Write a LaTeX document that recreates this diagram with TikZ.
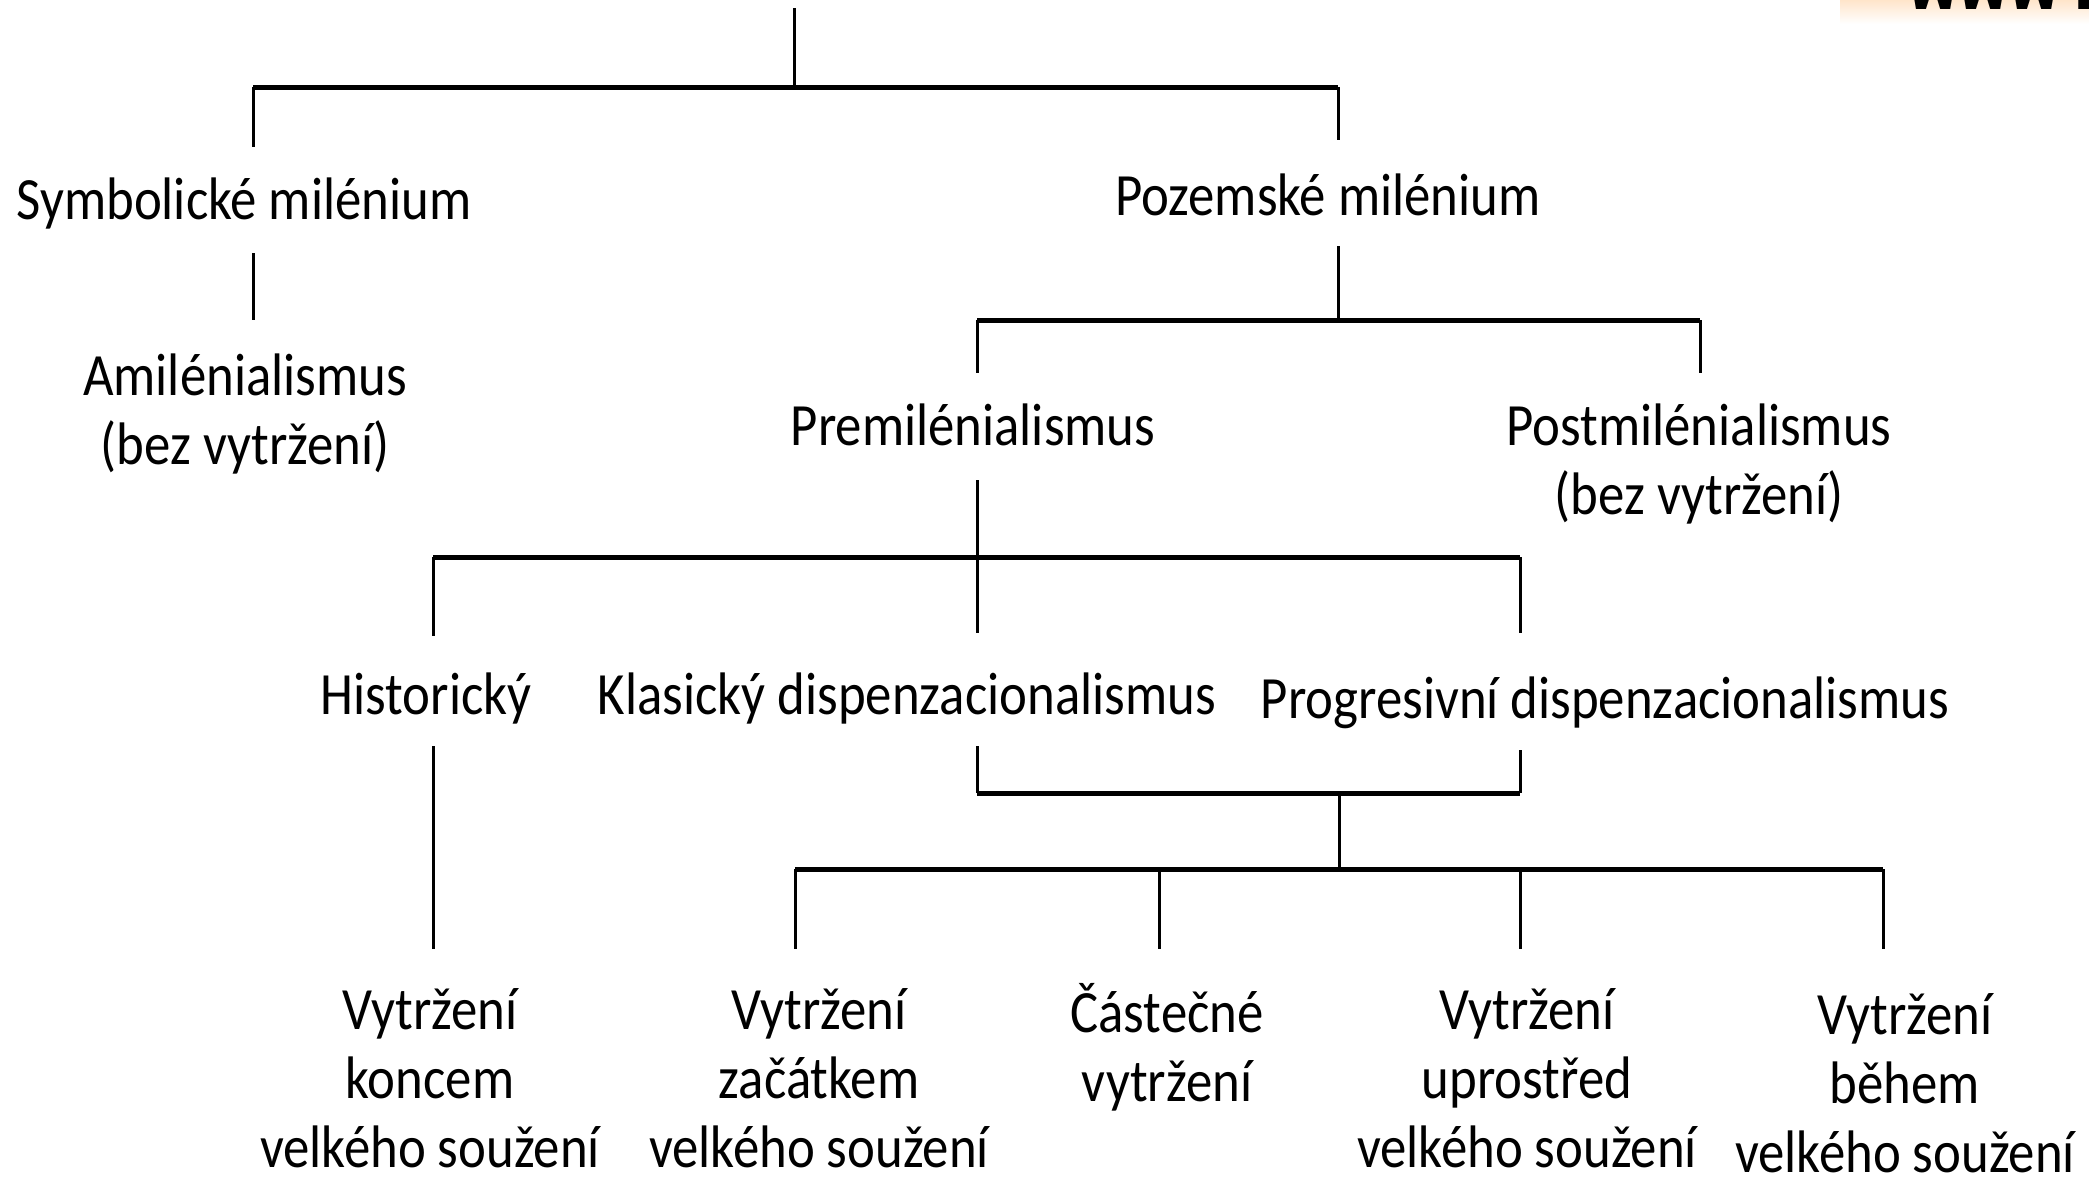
\documentclass[tikz,border=0pt]{standalone}
\usepackage{fontspec}
\setmainfont{Carlito}[FakeStretch=0.88]
\newfontfamily\wwwfont{Liberation Mono}
\begin{document}
\begin{tikzpicture}[x=0.5pt,y=-0.5pt,
  lbl/.style={font=\fontsize{30}{34.5}\selectfont, align=center, inner sep=0pt, anchor=base},
  vline/.style={line width=1.5pt},
  hbar/.style={line width=2.5pt}]
\useasboundingbox (0,0) rectangle (2089,1178);
\begin{scope}
\clip (0,0) rectangle (2089,1178);
\shade[top color=orange!25, bottom color=white] (1840,-5) rectangle (2089,24);
\node[font=\wwwfont\bfseries\fontsize{42}{42}\selectfont, anchor=base west, inner sep=0pt] (www) at (1908,10) {www.i};
\end{scope}

% text nodes (base = baseline of last line)
\node[lbl] (sym) at (244,219) {Symbolické milénium};
\node[lbl] (poz) at (1328,215) {Pozemské milénium};
\node[lbl] (ami) at (245,464) {Amilénialismus\\(bez vytržení)};
\node[lbl] (pre) at (973,445) {Premilénialismus};
\node[lbl] (post) at (1699,514) {Postmilénialismus\\(bez vytržení)};
\node[lbl] (his) at (426,714) {Historický};
\node[lbl] (kla) at (907,714) {Klasický dispenzacionalismus};
\node[lbl] (pro) at (1605,718) {Progresivní dispenzacionalismus};
\node[lbl] (v1) at (430,1167) {Vytržení\\koncem\\velkého soužení};
\node[lbl] (v2) at (819,1167) {Vytržení\\začátkem\\velkého soužení};
\node[lbl] (v3) at (1167,1101) {Částečné\\vytržení};
\node[lbl] (v4) at (1527,1167) {Vytržení\\uprostřed\\velkého soužení};
\node[lbl] (v5) at (1905,1172) {Vytržení\\během\\velkého soužení};

% connector coordinates
\coordinate (root) at (794,8);
\coordinate (j1) at (794,87);
\coordinate (b1l) at (253,87);
\coordinate (b1r) at (1338,87);
\coordinate (symT) at (253,147);
\coordinate (pozT) at (1338,140);
\coordinate (symB) at (253,253);
\coordinate (amiT) at (253,320);
\coordinate (pozB) at (1338,246);
\coordinate (j2) at (1338,320);
\coordinate (b2l) at (977,320);
\coordinate (b2r) at (1700,320);
\coordinate (preT) at (977,373);
\coordinate (postT) at (1700,373);
\coordinate (preB) at (977,480);
\coordinate (j3) at (977,557);
\coordinate (b3l) at (433,557);
\coordinate (b3r) at (1520,557);
\coordinate (hisT) at (433,636);
\coordinate (klaT) at (977,633);
\coordinate (proT) at (1520,633);
\coordinate (hisB) at (433,746);
\coordinate (v1T) at (433,949);
\coordinate (klaB) at (977,746);
\coordinate (proB) at (1520,750);
\coordinate (b4l) at (977,793);
\coordinate (b4r) at (1520,793);
\coordinate (j4) at (1339,793);
\coordinate (j5) at (1339,869);
\coordinate (b5l) at (795,869);
\coordinate (b5r) at (1883,869);
\coordinate (c3) at (1159,869);
\coordinate (c4) at (1520,869);
\coordinate (v2T) at (795,949);
\coordinate (v3T) at (1159,949);
\coordinate (v4T) at (1520,949);
\coordinate (v5T) at (1883,949);

% connectors
\draw[vline] (root) -- (j1);
\draw[hbar] (b1l) -- (b1r);
\draw[vline] (b1l) -- (symT);
\draw[vline] (b1r) -- (pozT);
\draw[vline] (symB) -- (amiT);
\draw[vline] (pozB) -- (j2);
\draw[hbar] (b2l) -- (b2r);
\draw[vline] (b2l) -- (preT);
\draw[vline] (b2r) -- (postT);
\draw[vline] (preB) -- (klaT);
\draw[hbar] (b3l) -- (b3r);
\draw[vline] (b3l) -- (hisT);
\draw[vline] (b3r) -- (proT);
\draw[vline] (hisB) -- (v1T);
\draw[vline] (klaB) -- (b4l);
\draw[vline] (proB) -- (b4r);
\draw[hbar] (b4l) -- (b4r);
\draw[vline] (j4) -- (j5);
\draw[hbar] (b5l) -- (b5r);
\draw[vline] (b5l) -- (v2T);
\draw[vline] (c3) -- (v3T);
\draw[vline] (c4) -- (v4T);
\draw[vline] (b5r) -- (v5T);
\end{tikzpicture}
\end{document}
